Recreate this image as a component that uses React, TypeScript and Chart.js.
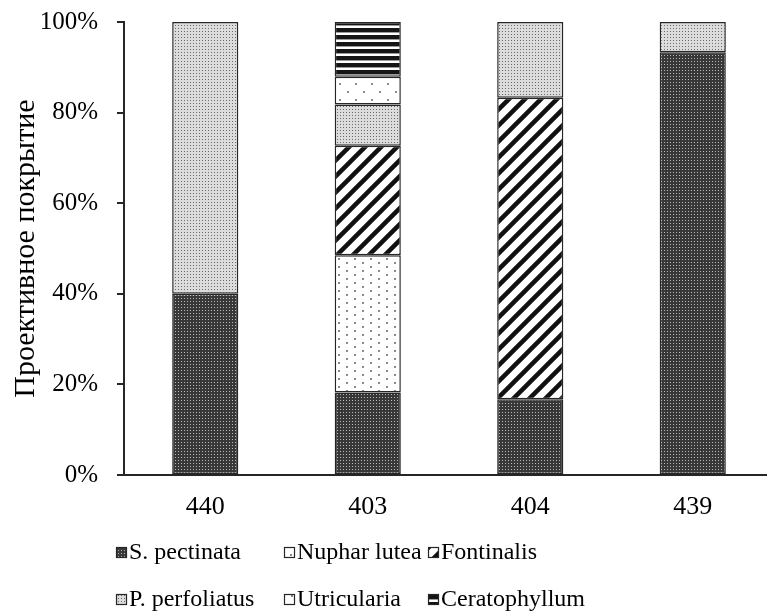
import React, { useEffect, useRef } from "react";
import { Chart, registerables } from "chart.js";

Chart.register(...registerables);

const categories = ["440", "403", "404", "439"];
const seriesNames = [
  "S. pectinata",
  "Nuphar lutea",
  "Fontinalis",
  "P. perfoliatus",
  "Utricularia",
  "Ceratophyllum",
];
const sPectinata = [40, 18.2, 16.7, 93.3];
const nupharLutea = [0, 30.3, 0, 0];
const fontinalis = [0, 24.2, 66.6, 0];
const pPerfoliatus = [60, 9.1, 16.7, 6.7];
const utricularia = [0, 6.1, 0, 0];
const ceratophyllum = [0, 12.1, 0, 0];
const yTicks = [0, 20, 40, 60, 80, 100];

const FONT = "'Liberation Serif', 'Times New Roman', serif";
const DARK = "#262626";

function tile(
  ctx: CanvasRenderingContext2D,
  w: number,
  h: number,
  draw: (c: CanvasRenderingContext2D) => void
): CanvasPattern | string {
  const c = document.createElement("canvas");
  c.width = w;
  c.height = h;
  const t = c.getContext("2d")!;
  draw(t);
  return ctx.createPattern(c, "repeat") || "#888";
}

function makePatterns(ctx: CanvasRenderingContext2D) {
  const sp = tile(ctx, 3, 3, (t) => {
    t.fillStyle = "#383838";
    t.fillRect(0, 0, 3, 3);
    t.fillStyle = "#b8b8b8";
    t.fillRect(1, 1, 1, 1);
  });
  const nu = tile(ctx, 16, 8, (t) => {
    t.fillStyle = "#ffffff";
    t.fillRect(0, 0, 16, 8);
    t.fillStyle = "#8a8a8a";
    t.fillRect(2, 2, 2, 2);
    t.fillRect(10, 6, 2, 2);
  });
  const fo = tile(ctx, 16, 16, (t) => {
    t.fillStyle = "#ffffff";
    t.fillRect(0, 0, 16, 16);
    t.strokeStyle = "#111111";
    t.lineWidth = 4.5;
    t.beginPath();
    for (let k = -1; k <= 1; k++) {
      t.moveTo(k * 16 - 2, 18);
      t.lineTo(k * 16 + 18, -2);
    }
    t.stroke();
  });
  const pp = tile(ctx, 3, 3, (t) => {
    t.fillStyle = "#dcdcdc";
    t.fillRect(0, 0, 3, 3);
    t.fillStyle = "#6a6a6a";
    t.fillRect(1, 1, 1, 1);
  });
  const ut = tile(ctx, 16, 16, (t) => {
    t.fillStyle = "#ffffff";
    t.fillRect(0, 0, 16, 16);
    t.fillStyle = "#8a8a8a";
    t.fillRect(3, 3, 2, 2);
    t.fillRect(11, 11, 2, 2);
  });
  const ce = tile(ctx, 4, 7, (t) => {
    t.fillStyle = "#ffffff";
    t.fillRect(0, 0, 4, 7);
    t.fillStyle = "#151515";
    t.fillRect(0, 0, 4, 4);
    t.fillStyle = "#9a9a9a";
    t.fillRect(0, 4, 4, 1);
  });
  return [sp, nu, fo, pp, ut, ce];
}

const legendPlugin = {
  id: "gridLegend",
  afterDraw(chart: any) {
    const ctx: CanvasRenderingContext2D = chart.ctx;
    const boxX = [116, 284, 428];
    const textX = [129, 297, 441];
    const rowY = [552, 599];
    ctx.save();
    ctx.font = `24px ${FONT}`;
    ctx.textBaseline = "middle";
    ctx.textAlign = "left";
    chart.data.datasets.forEach((ds: any, i: number) => {
      const col = i % 3;
      const row = Math.floor(i / 3);
      const bx = boxX[col];
      const by = rowY[row] - 5;
      ctx.fillStyle = ds.backgroundColor;
      ctx.fillRect(bx, by, 11, 11);
      ctx.strokeStyle = DARK;
      ctx.lineWidth = 1.2;
      ctx.strokeRect(bx + 0.5, by + 0.5, 10, 10);
      ctx.fillStyle = "#000000";
      ctx.fillText(ds.label, textX[col], rowY[row] + 1);
    });
    ctx.restore();
  },
};

export default function App() {
  const ref = useRef<HTMLCanvasElement | null>(null);

  useEffect(() => {
    const canvas = ref.current;
    if (!canvas) return;
    const ctx = canvas.getContext("2d")!;
    const patterns = makePatterns(ctx);
    const values = [
      sPectinata,
      nupharLutea,
      fontinalis,
      pPerfoliatus,
      utricularia,
      ceratophyllum,
    ];
    const chart = new Chart(canvas, {
      type: "bar",
      data: {
        labels: categories,
        datasets: seriesNames.map((name, i) => ({
          label: name,
          data: values[i],
          backgroundColor: patterns[i] as any,
          borderColor: DARK,
          borderWidth: 1.5,
          borderSkipped: false,
          barPercentage: 0.407,
          categoryPercentage: 1,
        })),
      },
      options: {
        responsive: false,
        animation: false,
        layout: { padding: { left: 0, right: 0, top: 22, bottom: 0 } },
        plugins: {
          legend: { display: false },
          tooltip: { enabled: false },
        },
        scales: {
          x: {
            stacked: true,
            grid: { display: false, drawTicks: false },
            border: { display: true, color: DARK, width: 2 },
            ticks: {
              color: "#000000",
              padding: 17,
              font: { family: FONT, size: 26 },
            },
            afterFit: (s: any) => {
              s.height = 611 - 475;
              s.paddingLeft = 0;
              s.paddingRight = 0;
            },
          },
          y: {
            stacked: true,
            min: 0,
            max: 100,
            afterBuildTicks: (s: any) => {
              s.ticks = yTicks.map((v) => ({ value: v }));
            },
            grid: {
              drawOnChartArea: false,
              drawTicks: true,
              tickLength: 7,
              color: DARK,
              lineWidth: 2,
            },
            border: { display: true, color: DARK, width: 2 },
            ticks: {
              color: "#000000",
              padding: 19,
              font: { family: FONT, size: 25 },
              callback: (v: any) => `${v}%`,
            },
            title: {
              display: true,
              text: "Проективное покрытие",
              color: "#000000",
              font: { family: FONT, size: 30 },
              padding: { top: 8, bottom: 0 },
            },
            afterFit: (s: any) => {
              s.width = 124;
              s.paddingTop = 0;
              s.paddingBottom = 0;
            },
          },
        },
      },
      plugins: [legendPlugin],
    });
    return () => chart.destroy();
  }, []);

  return (
    <div
      style={{
        position: "fixed",
        left: 0,
        top: 0,
        width: 767,
        height: 611,
        overflow: "hidden",
        background: "#ffffff",
      }}
    >
      <canvas
        ref={ref}
        width={774}
        height={611}
        style={{ width: 774, height: 611, display: "block" }}
      />
    </div>
  );
}
